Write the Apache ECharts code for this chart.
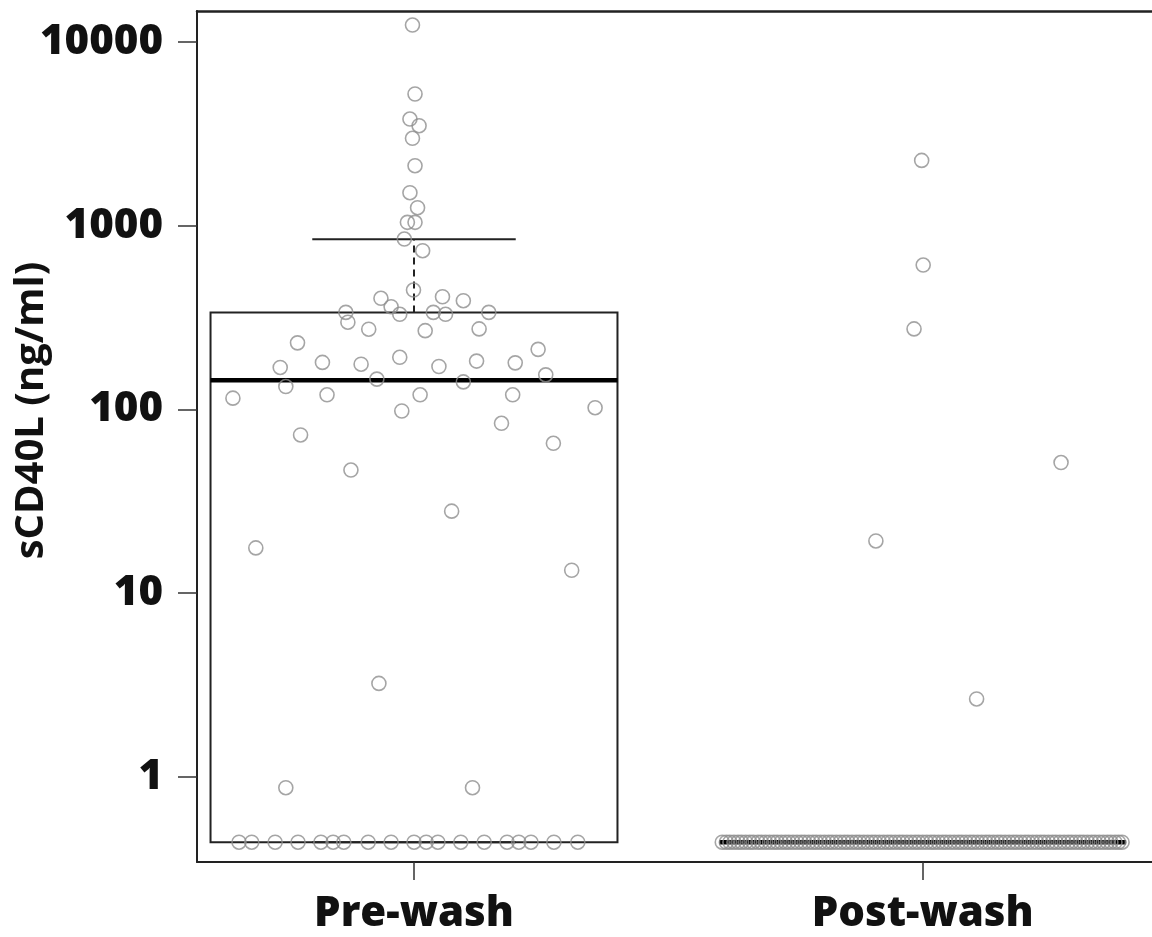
<!DOCTYPE html>
<html>
<head>
<meta charset="utf-8">
<script src="https://cdn.jsdelivr.net/npm/echarts@6/dist/echarts.min.js"></script>
<style>
html,body{margin:0;padding:0;background:#fff;}
#chart{width:1152px;height:937px;}
</style>
</head>
<body>
<div id="chart"></div>
<script>
// ---- data ----
const categories = ['Pre-wash', 'Post-wash'];
const yTickValues = [1, 10, 100, 1000, 10000];
const yAxisName = 'sCD40L (ng/ml)';

// Pre-wash observations (ng/ml) and their horizontal jitter offsets
const preValues = [
  12360, 5205, 3804, 3498, 2987, 2119, 1511, 1252, 1042, 1042, 845, 730,
  446, 402, 410, 390, 362, 337, 329, 337, 329, 337, 298, 273, 268, 274,
  230, 212, 169, 180, 176, 192, 171, 183, 179, 154, 146, 141, 133, 115,
  120, 120, 120, 102, 97.9, 83.9, 72.5, 65.3, 46.7,
  27.9, 17.6, 13.3, 3.22, 0.871, 0.871,
  0.44, 0.44, 0.44, 0.44, 0.44, 0.44, 0.44, 0.44, 0.44, 0.44,
  0.44, 0.44, 0.44, 0.44, 0.44, 0.44, 0.44, 0.44, 0.44
];
const preJitter = [
  -0.003, 0.002, -0.008, 0.010, -0.003, 0.002, -0.008, 0.007, -0.013, 0.002, -0.019, 0.017,
  -0.001, -0.065, 0.056, 0.097, -0.045, -0.134, -0.028, 0.038, 0.062, 0.147, -0.130, -0.089, 0.022, 0.128,
  -0.229, 0.244, -0.263, -0.180, -0.104, -0.028, 0.049, 0.123, 0.199, 0.259, -0.073, 0.097, -0.252, -0.356,
  -0.171, 0.012, 0.194, 0.356, -0.024, 0.172, -0.223, 0.274, -0.124,
  0.074, -0.311, 0.310, -0.069, -0.252, 0.115,
  -0.344, -0.319, -0.273, -0.228, -0.183, -0.159, -0.138, -0.090, -0.045, 0.000,
  0.024, 0.047, 0.092, 0.138, 0.183, 0.206, 0.230, 0.275, 0.322
];

// Post-wash observations (ng/ml): six measurable values, the rest at the detection floor
const postValues = [
  2264, 610, 274, 51.3, 19.2, 2.65,
  0.44, 0.44, 0.44, 0.44, 0.44, 0.44, 0.44, 0.44, 0.44, 0.44,
  0.44, 0.44, 0.44, 0.44, 0.44, 0.44, 0.44, 0.44, 0.44, 0.44,
  0.44, 0.44, 0.44, 0.44, 0.44, 0.44, 0.44, 0.44, 0.44, 0.44,
  0.44, 0.44, 0.44, 0.44, 0.44, 0.44, 0.44, 0.44, 0.44, 0.44,
  0.44, 0.44, 0.44, 0.44, 0.44, 0.44, 0.44, 0.44, 0.44, 0.44,
  0.44, 0.44, 0.44, 0.44, 0.44, 0.44, 0.44, 0.44, 0.44, 0.44,
  0.44, 0.44, 0.44, 0.44, 0.44, 0.44, 0.44, 0.44, 0.44, 0.44,
  0.44, 0.44, 0.44, 0.44, 0.44, 0.44, 0.44, 0.44, 0.44, 0.44,
  0.44, 0.44, 0.44, 0.44, 0.44, 0.44, 0.44, 0.44, 0.44, 0.44,
  0.44, 0.44, 0.44, 0.44, 0.44, 0.44, 0.44, 0.44, 0.44, 0.44,
  0.44, 0.44, 0.44
];
const postJitter = [
  -0.002, 0.001, -0.017, 0.272, -0.092, 0.106,
  -0.394, -0.386, -0.379, -0.371, -0.363, -0.356, -0.348, -0.340, -0.333, -0.324,
  -0.317, -0.309, -0.301, -0.293, -0.286, -0.278, -0.270, -0.263, -0.255, -0.247,
  -0.239, -0.232, -0.224, -0.216, -0.209, -0.201, -0.193, -0.185, -0.178, -0.170,
  -0.162, -0.154, -0.147, -0.139, -0.131, -0.124, -0.116, -0.108, -0.100, -0.093,
  -0.085, -0.077, -0.069, -0.062, -0.054, -0.046, -0.039, -0.031, -0.023, -0.015,
  -0.008, 0.000, 0.008, 0.016, 0.023, 0.031, 0.039, 0.046, 0.054, 0.062,
  0.070, 0.077, 0.085, 0.093, 0.100, 0.108, 0.116, 0.124, 0.131, 0.139,
  0.147, 0.154, 0.162, 0.170, 0.178, 0.185, 0.193, 0.201, 0.208, 0.216,
  0.224, 0.232, 0.239, 0.247, 0.255, 0.262, 0.270, 0.278, 0.286, 0.293,
  0.301, 0.309, 0.316, 0.324, 0.332, 0.339, 0.347, 0.355, 0.363, 0.370,
  0.378, 0.385, 0.392
];

// Box statistics: [lower whisker, Q1, median, Q3, upper whisker]
const preBox = [0.44, 0.44, 144, 337, 842];
const postBox = [0.44, 0.44, 0.44, 0.44, 0.44];

// ---- build series data ----
const boxData = [[1].concat(preBox), [2].concat(postBox)];
const pointData = [];
preValues.forEach((v, i) => pointData.push([1 + preJitter[i], v]));
postValues.forEach((v, i) => pointData.push([2 + postJitter[i], v]));

const FONT = '"Open Sans", "DejaVu Sans", sans-serif';
const chart = echarts.init(document.getElementById('chart'), null, {renderer: 'canvas'});

const option = {
  animation: false,
  backgroundColor: '#ffffff',
  grid: {left: 197, right: 0, top: 11, bottom: 75, containLabel: false, outerBoundsMode: 'none'},
  xAxis: [{
    type: 'value',
    min: 0.5734,
    max: 2.4508,
    splitLine: {show: false},
    axisLine: {show: true, onZero: false, lineStyle: {color: '#222', width: 2}},
    axisTick: {show: true, length: 18, customValues: [1, 2], lineStyle: {color: '#333', width: 1.5}},
    axisLabel: {
      show: true, customValues: [1, 2], margin: 31,
      formatter: v => categories[Math.round(v) - 1],
      fontFamily: FONT, fontWeight: 800, fontSize: 42, color: '#111'
    }
  }, {
    type: 'value',
    position: 'top',
    min: 0.5734,
    max: 2.4508,
    splitLine: {show: false},
    axisLine: {show: true, onZero: false, lineStyle: {color: '#222', width: 2.5}},
    axisTick: {show: false},
    axisLabel: {show: false}
  }],
  yAxis: {
    type: 'log',
    logBase: 10,
    min: 0.3433,
    max: 14733,
    name: yAxisName,
    nameLocation: 'middle',
    nameGap: 145,
    nameMoveOverlap: false,
    nameTextStyle: {fontFamily: FONT, fontWeight: 'bold', fontSize: 40, color: '#111', padding: [0, 0, 0, 52]},
    splitLine: {show: false},
    axisLine: {show: true, onZero: false, lineStyle: {color: '#222', width: 2}},
    axisTick: {show: true, length: 19, customValues: yTickValues, lineStyle: {color: '#333', width: 1.5}},
    axisLabel: {
      show: true, customValues: yTickValues, margin: 34,
      formatter: v => String(Math.round(v)),
      fontFamily: FONT, fontWeight: 800, fontSize: 42, color: '#111'
    }
  },
  series: [{
    type: 'custom',
    name: 'box',
    xAxisIndex: 0,
    data: boxData,
    z: 2,
    clip: false,
    renderItem: function (params, api) {
      const x = api.value(0);
      const lo = api.value(1), q1 = api.value(2), med = api.value(3), q3 = api.value(4), hi = api.value(5);
      const pL = api.coord([x - 0.4, q3]);
      const pR = api.coord([x + 0.4, q1]);
      const mL = api.coord([x - 0.4, med]);
      const mR = api.coord([x + 0.4, med]);
      const c = api.coord([x, q3]);
      const cHi = api.coord([x, hi]);
      const cQ1 = api.coord([x, q1]);
      const cLo = api.coord([x, lo]);
      const sHiL = api.coord([x - 0.2, hi]);
      const sHiR = api.coord([x + 0.2, hi]);
      const sLoL = api.coord([x - 0.2, lo]);
      const sLoR = api.coord([x + 0.2, lo]);
      const ink = '#222';
      return {
        type: 'group',
        children: [
          {type: 'line', shape: {x1: c[0], y1: c[1], x2: cHi[0], y2: cHi[1]},
           style: {stroke: ink, lineWidth: 2, lineDash: [7, 5]}},
          {type: 'line', shape: {x1: cQ1[0], y1: cQ1[1], x2: cLo[0], y2: cLo[1]},
           style: {stroke: ink, lineWidth: 2, lineDash: [7, 5]}},
          {type: 'line', shape: {x1: sHiL[0], y1: sHiL[1], x2: sHiR[0], y2: sHiR[1]},
           style: {stroke: ink, lineWidth: 2}},
          {type: 'line', shape: {x1: sLoL[0], y1: sLoL[1], x2: sLoR[0], y2: sLoR[1]},
           style: {stroke: ink, lineWidth: 2}},
          {type: 'rect', shape: {x: pL[0], y: pL[1], width: pR[0] - pL[0], height: pR[1] - pL[1]},
           style: {fill: 'none', stroke: ink, lineWidth: 2}},
          {type: 'line', shape: {x1: mL[0], y1: mL[1], x2: mR[0], y2: mR[1]},
           style: {stroke: '#000', lineWidth: 4.5}}
        ]
      };
    }
  }, {
    type: 'scatter',
    name: 'samples',
    xAxisIndex: 0,
    data: pointData,
    symbol: 'circle',
    symbolSize: 14,
    z: 3,
    itemStyle: {color: 'rgba(0,0,0,0)', borderColor: '#8e8e8e', borderWidth: 1.6},
    emphasis: {disabled: true}
  }]
};
chart.setOption(option);
</script>
</body>
</html>
